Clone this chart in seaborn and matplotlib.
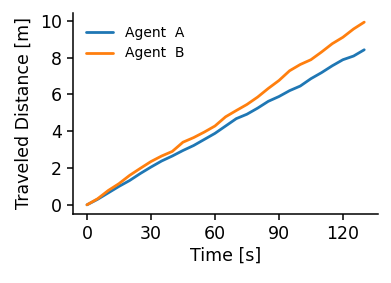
import numpy as np
import pandas as pd
import matplotlib
matplotlib.use("Agg")
import matplotlib.pyplot as plt
import seaborn as sns

# time stamps [s] and travelled distance [m]
time_s = [0, 5, 10, 15, 20, 25, 30, 35, 40, 45, 50, 55, 60, 65,
          70, 75, 80, 85, 90, 95, 100, 105, 110, 115, 120, 125, 130]
dist_a = [0.00, 0.30, 0.65, 1.00, 1.32, 1.70, 2.05, 2.38, 2.65, 2.95, 3.22, 3.55, 3.88, 4.28,
          4.68, 4.92, 5.25, 5.62, 5.88, 6.20, 6.45, 6.85, 7.18, 7.55, 7.88, 8.08, 8.42]
dist_b = [0.00, 0.33, 0.78, 1.15, 1.60, 1.98, 2.35, 2.65, 2.90, 3.40, 3.65, 3.95, 4.28, 4.78,
          5.12, 5.45, 5.85, 6.32, 6.75, 7.28, 7.62, 7.88, 8.30, 8.75, 9.10, 9.55, 9.92]
agents = ['Agent  A', 'Agent  B']

df = pd.DataFrame({
    'time': time_s * 2,
    'dist': dist_a + dist_b,
    'agent': [agents[0]] * len(time_s) + [agents[1]] * len(time_s),
})

sns.set_style("ticks", {"axes.edgecolor": "black", "text.color": "black",
                        "axes.labelcolor": "black", "xtick.color": "black",
                        "ytick.color": "black"})
plt.rcParams['font.family'] = ['DejaVu Sans']

fig, ax = plt.subplots(figsize=(3.91, 2.83), dpi=100)
fig.subplots_adjust(left=0.187, right=0.967, top=0.954, bottom=0.244)

sns.lineplot(data=df, x='time', y='dist', hue='agent', palette=['#1f77b4', '#ff7f0e'],
             linewidth=2, ax=ax)

ax.set_xticks([0, 30, 60, 90, 120])
ax.set_yticks([0, 2, 4, 6, 8, 10])
ax.tick_params(labelsize=12.5, length=4.5, width=1.1, pad=3.5)
ax.set_xlabel('Time [s]', fontsize=12.5, labelpad=3)
ax.set_ylabel('Traveled Distance [m]', fontsize=12.5, labelpad=5)
for s in ['left', 'bottom']:
    ax.spines[s].set_linewidth(1.1)
sns.despine(ax=ax)

ax.legend(loc='upper left', frameon=False, fontsize=10)

plt.savefig('out.png', dpi=100)
